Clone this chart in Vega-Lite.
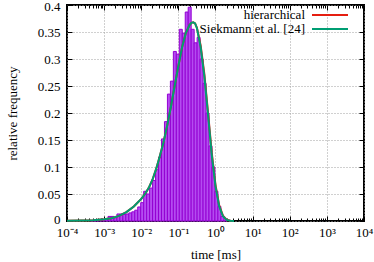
{
  "$schema": "https://vega.github.io/schema/vega-lite/v6.json",
  "width": 297,
  "height": 216,
  "autosize": {"type": "none"},
  "padding": {"left": 67, "top": 5, "right": 10, "bottom": 41},
  "background": "white",
  "config": {
    "view": {"stroke": "black", "strokeWidth": 2},
    "font": "Liberation Serif",
    "axis": {
      "labelFont": "Liberation Serif", "labelFontSize": 13, "labelColor": "black",
      "titleFont": "Liberation Serif", "titleFontSize": 13, "titleFontWeight": "normal", "titleColor": "black",
      "domain": false, "tickColor": "black", "tickWidth": 1,
      "gridColor": "#a0a0a0", "gridDash": [1, 2], "gridWidth": 1
    },
    "legend": {"labelFont": "Liberation Serif"}
  },
  "datasets": {
    "bins": [
      {"lo": 0.0004217, "hi": 0.000507, "freq": 0.0005},
      {"lo": 0.000507, "hi": 0.0006095, "freq": 0.0008},
      {"lo": 0.0006095, "hi": 0.0007328, "freq": 0.001},
      {"lo": 0.0007328, "hi": 0.000881, "freq": 0.002},
      {"lo": 0.000881, "hi": 0.001059, "freq": 0.003},
      {"lo": 0.001059, "hi": 0.001274, "freq": 0.004},
      {"lo": 0.001274, "hi": 0.001531, "freq": 0.0085},
      {"lo": 0.001531, "hi": 0.001841, "freq": 0.0085},
      {"lo": 0.001841, "hi": 0.002213, "freq": 0.006},
      {"lo": 0.002213, "hi": 0.002661, "freq": 0.013},
      {"lo": 0.002661, "hi": 0.003199, "freq": 0.013},
      {"lo": 0.003199, "hi": 0.003846, "freq": 0.012},
      {"lo": 0.003846, "hi": 0.004624, "freq": 0.013},
      {"lo": 0.004624, "hi": 0.005559, "freq": 0.015},
      {"lo": 0.005559, "hi": 0.006683, "freq": 0.017},
      {"lo": 0.006683, "hi": 0.008035, "freq": 0.02},
      {"lo": 0.008035, "hi": 0.009661, "freq": 0.026},
      {"lo": 0.009661, "hi": 0.01161, "freq": 0.034},
      {"lo": 0.01161, "hi": 0.01396, "freq": 0.055},
      {"lo": 0.01396, "hi": 0.01679, "freq": 0.05},
      {"lo": 0.01679, "hi": 0.02018, "freq": 0.061},
      {"lo": 0.02018, "hi": 0.02427, "freq": 0.075},
      {"lo": 0.02427, "hi": 0.02917, "freq": 0.095},
      {"lo": 0.02917, "hi": 0.03508, "freq": 0.118},
      {"lo": 0.03508, "hi": 0.04217, "freq": 0.152},
      {"lo": 0.04217, "hi": 0.0507, "freq": 0.184},
      {"lo": 0.0507, "hi": 0.06095, "freq": 0.235},
      {"lo": 0.06095, "hi": 0.07328, "freq": 0.259},
      {"lo": 0.07328, "hi": 0.0881, "freq": 0.314},
      {"lo": 0.0881, "hi": 0.1059, "freq": 0.309},
      {"lo": 0.1059, "hi": 0.1274, "freq": 0.355},
      {"lo": 0.1274, "hi": 0.1531, "freq": 0.348},
      {"lo": 0.1531, "hi": 0.1841, "freq": 0.387},
      {"lo": 0.1841, "hi": 0.2213, "freq": 0.396},
      {"lo": 0.2213, "hi": 0.2661, "freq": 0.355},
      {"lo": 0.2661, "hi": 0.3199, "freq": 0.33},
      {"lo": 0.3199, "hi": 0.3846, "freq": 0.34},
      {"lo": 0.3846, "hi": 0.4624, "freq": 0.3},
      {"lo": 0.4624, "hi": 0.5559, "freq": 0.255},
      {"lo": 0.5559, "hi": 0.6683, "freq": 0.2},
      {"lo": 0.6683, "hi": 0.8035, "freq": 0.139},
      {"lo": 0.8035, "hi": 0.9661, "freq": 0.1},
      {"lo": 0.9661, "hi": 1.161, "freq": 0.055},
      {"lo": 1.161, "hi": 1.396, "freq": 0.027},
      {"lo": 1.396, "hi": 1.679, "freq": 0.0085},
      {"lo": 1.679, "hi": 2.018, "freq": 0.002}
    ],
    "siekmann": [
      {"t": 0.0001, "freq": 0.0003},
      {"t": 0.0002512, "freq": 0.0008},
      {"t": 0.0005012, "freq": 0.0016},
      {"t": 0.001, "freq": 0.0032},
      {"t": 0.001585, "freq": 0.0052},
      {"t": 0.002512, "freq": 0.0095},
      {"t": 0.003981, "freq": 0.0165},
      {"t": 0.00631, "freq": 0.027},
      {"t": 0.01, "freq": 0.041},
      {"t": 0.01259, "freq": 0.05},
      {"t": 0.01585, "freq": 0.061},
      {"t": 0.01995, "freq": 0.076},
      {"t": 0.02512, "freq": 0.096},
      {"t": 0.03162, "freq": 0.12},
      {"t": 0.03981, "freq": 0.146},
      {"t": 0.05012, "freq": 0.177},
      {"t": 0.0631, "freq": 0.212},
      {"t": 0.07943, "freq": 0.25},
      {"t": 0.1, "freq": 0.287},
      {"t": 0.1259, "freq": 0.322},
      {"t": 0.1585, "freq": 0.348},
      {"t": 0.1995, "freq": 0.363},
      {"t": 0.2239, "freq": 0.367},
      {"t": 0.2512, "freq": 0.368},
      {"t": 0.2818, "freq": 0.366},
      {"t": 0.3162, "freq": 0.357},
      {"t": 0.3981, "freq": 0.322},
      {"t": 0.5012, "freq": 0.268},
      {"t": 0.631, "freq": 0.196},
      {"t": 0.7943, "freq": 0.122},
      {"t": 1, "freq": 0.064},
      {"t": 1.259, "freq": 0.027},
      {"t": 1.585, "freq": 0.009},
      {"t": 1.995, "freq": 0.002},
      {"t": 2.512, "freq": 0.0003},
      {"t": 3.162, "freq": 0}
    ],
    "hierarchical": [
      {"t": 0.0001, "freq": 0.0003},
      {"t": 0.0002512, "freq": 0.0008},
      {"t": 0.0005012, "freq": 0.0016},
      {"t": 0.001, "freq": 0.0032},
      {"t": 0.001585, "freq": 0.0052},
      {"t": 0.002512, "freq": 0.0095},
      {"t": 0.003981, "freq": 0.0165},
      {"t": 0.00631, "freq": 0.027},
      {"t": 0.01, "freq": 0.041},
      {"t": 0.01259, "freq": 0.05},
      {"t": 0.01585, "freq": 0.061},
      {"t": 0.01995, "freq": 0.076},
      {"t": 0.02512, "freq": 0.096},
      {"t": 0.03162, "freq": 0.12},
      {"t": 0.03981, "freq": 0.146},
      {"t": 0.05012, "freq": 0.177},
      {"t": 0.0631, "freq": 0.212},
      {"t": 0.07943, "freq": 0.25},
      {"t": 0.1, "freq": 0.287},
      {"t": 0.1259, "freq": 0.322},
      {"t": 0.1585, "freq": 0.348},
      {"t": 0.1995, "freq": 0.363},
      {"t": 0.2239, "freq": 0.367},
      {"t": 0.2512, "freq": 0.368},
      {"t": 0.2818, "freq": 0.366},
      {"t": 0.3162, "freq": 0.358},
      {"t": 0.3981, "freq": 0.325},
      {"t": 0.5012, "freq": 0.272},
      {"t": 0.631, "freq": 0.2},
      {"t": 0.7943, "freq": 0.126},
      {"t": 1, "freq": 0.067},
      {"t": 1.259, "freq": 0.029},
      {"t": 1.585, "freq": 0.01},
      {"t": 1.995, "freq": 0.0025},
      {"t": 2.512, "freq": 0.0004},
      {"t": 3.162, "freq": 0}
    ]
  },
  "layer": [
    {
      "data": {"name": "bins"},
      "mark": {"type": "rect", "fill": "#b44cf0", "stroke": "#9400d3", "strokeWidth": 1},
      "encoding": {
        "x": {
          "field": "lo", "type": "quantitative",
          "scale": {"type": "log", "domain": [0.0001, 10000], "nice": false},
          "axis": {
            "orient": "bottom",
            "title": "time [ms]",
            "titlePadding": 7,
            "values": [0.0001,0.0002,0.0003,0.0004,0.0005,0.0006,0.0007,0.0008,0.0009,0.001,0.002,0.003,0.004,0.005,0.006,0.007,0.008,0.009,0.01,0.02,0.03,0.04,0.05,0.06,0.07,0.08,0.09,0.1,0.2,0.3,0.4,0.5,0.6,0.7,0.8,0.9,1,2,3,4,5,6,7,8,9,10,20,30,40,50,60,70,80,90,100,200,300,400,500,600,700,800,900,1000,2000,3000,4000,5000,6000,7000,8000,9000,10000],
            "labelExpr": "indexof([0.0001,0.001,0.01,0.1,1,10,100,1000,10000], datum.value) < 0 ? '' : '10' + ['⁻⁴','⁻³','⁻²','⁻¹','⁰','¹','²','³','⁴'][indexof([0.0001,0.001,0.01,0.1,1,10,100,1000,10000], datum.value)]",
            "labelFlush": false,
            "labelOverlap": false,
            "labelPadding": 10,
            "grid": true,
            "gridOpacity": {"condition": {"test": "indexof([0.0001,0.001,0.01,0.1,1,10,100,1000,10000], datum.value) >= 0", "value": 1}, "value": 0},
            "tickSize": {"condition": {"test": "indexof([0.0001,0.001,0.01,0.1,1,10,100,1000,10000], datum.value) >= 0", "value": -5}, "value": -3}
          }
        },
        "x2": {"field": "hi"},
        "y": {
          "field": "freq", "type": "quantitative",
          "scale": {"domain": [0, 0.4], "nice": false, "zero": true},
          "axis": {
            "orient": "left",
            "title": "relative frequency",
            "titlePadding": 18,
            "values": [0, 0.05, 0.1, 0.15, 0.2, 0.25, 0.3, 0.35, 0.4],
            "format": "~g",
            "grid": true,
            "tickSize": -5,
            "labelPadding": 12,
            "labelOffset": {"condition": [{"test": "datum.value >= 0.4", "value": 1.5}, {"test": "datum.value <= 0", "value": -2}], "value": 0}
          }
        },
        "y2": {"datum": 0}
      }
    },
    {
      "data": {"name": "hierarchical"},
      "mark": {"type": "line", "strokeWidth": 2},
      "encoding": {
        "x": {"field": "t", "type": "quantitative", "axis": null},
        "y": {"field": "freq", "type": "quantitative", "axis": null},
        "color": {
          "datum": "hierarchical",
          "scale": {"domain": ["hierarchical", "Siekmann et al. [24]"], "range": ["#e51e10", "#009e73"]},
          "legend": {
            "orient": "none", "legendX": 256, "legendY": 3, "title": null,
            "symbolType": "M-3,0L3,0", "symbolSize": 144, "symbolStrokeWidth": 2,
            "labelAlign": "right", "labelOffset": -32,
            "labelFontSize": 13, "labelColor": "black", "rowPadding": -1,
            "padding": 0, "labelLimit": 300
          }
        }
      }
    },
    {
      "data": {"name": "siekmann"},
      "mark": {"type": "line", "strokeWidth": 2},
      "encoding": {
        "x": {
          "field": "t", "type": "quantitative",
          "axis": {
            "orient": "top", "title": null, "labels": false, "grid": false,
            "values": [0.0001,0.0002,0.0003,0.0004,0.0005,0.0006,0.0007,0.0008,0.0009,0.001,0.002,0.003,0.004,0.005,0.006,0.007,0.008,0.009,0.01,0.02,0.03,0.04,0.05,0.06,0.07,0.08,0.09,0.1,0.2,0.3,0.4,0.5,0.6,0.7,0.8,0.9,1,2,3,4,5,6,7,8,9,10,20,30,40,50,60,70,80,90,100,200,300,400,500,600,700,800,900,1000,2000,3000,4000,5000,6000,7000,8000,9000,10000],
            "tickSize": {"condition": {"test": "indexof([0.0001,0.001,0.01,0.1,1,10,100,1000,10000], datum.value) >= 0", "value": -5}, "value": -3}
          }
        },
        "y": {
          "field": "freq", "type": "quantitative",
          "axis": {
            "orient": "right", "title": null, "labels": false, "grid": false,
            "values": [0, 0.05, 0.1, 0.15, 0.2, 0.25, 0.3, 0.35, 0.4],
            "tickSize": -5
          }
        },
        "color": {
          "datum": "Siekmann et al. [24]",
          "scale": {"domain": ["hierarchical", "Siekmann et al. [24]"], "range": ["#e51e10", "#009e73"]},
          "legend": {
            "orient": "none", "legendX": 256, "legendY": 3, "title": null,
            "symbolType": "M-3,0L3,0", "symbolSize": 144, "symbolStrokeWidth": 2,
            "labelAlign": "right", "labelOffset": -32,
            "labelFontSize": 13, "labelColor": "black", "rowPadding": -1,
            "padding": 0, "labelLimit": 300
          }
        }
      }
    }
  ],
  "resolve": {"axis": {"x": "independent", "y": "independent"}}
}
